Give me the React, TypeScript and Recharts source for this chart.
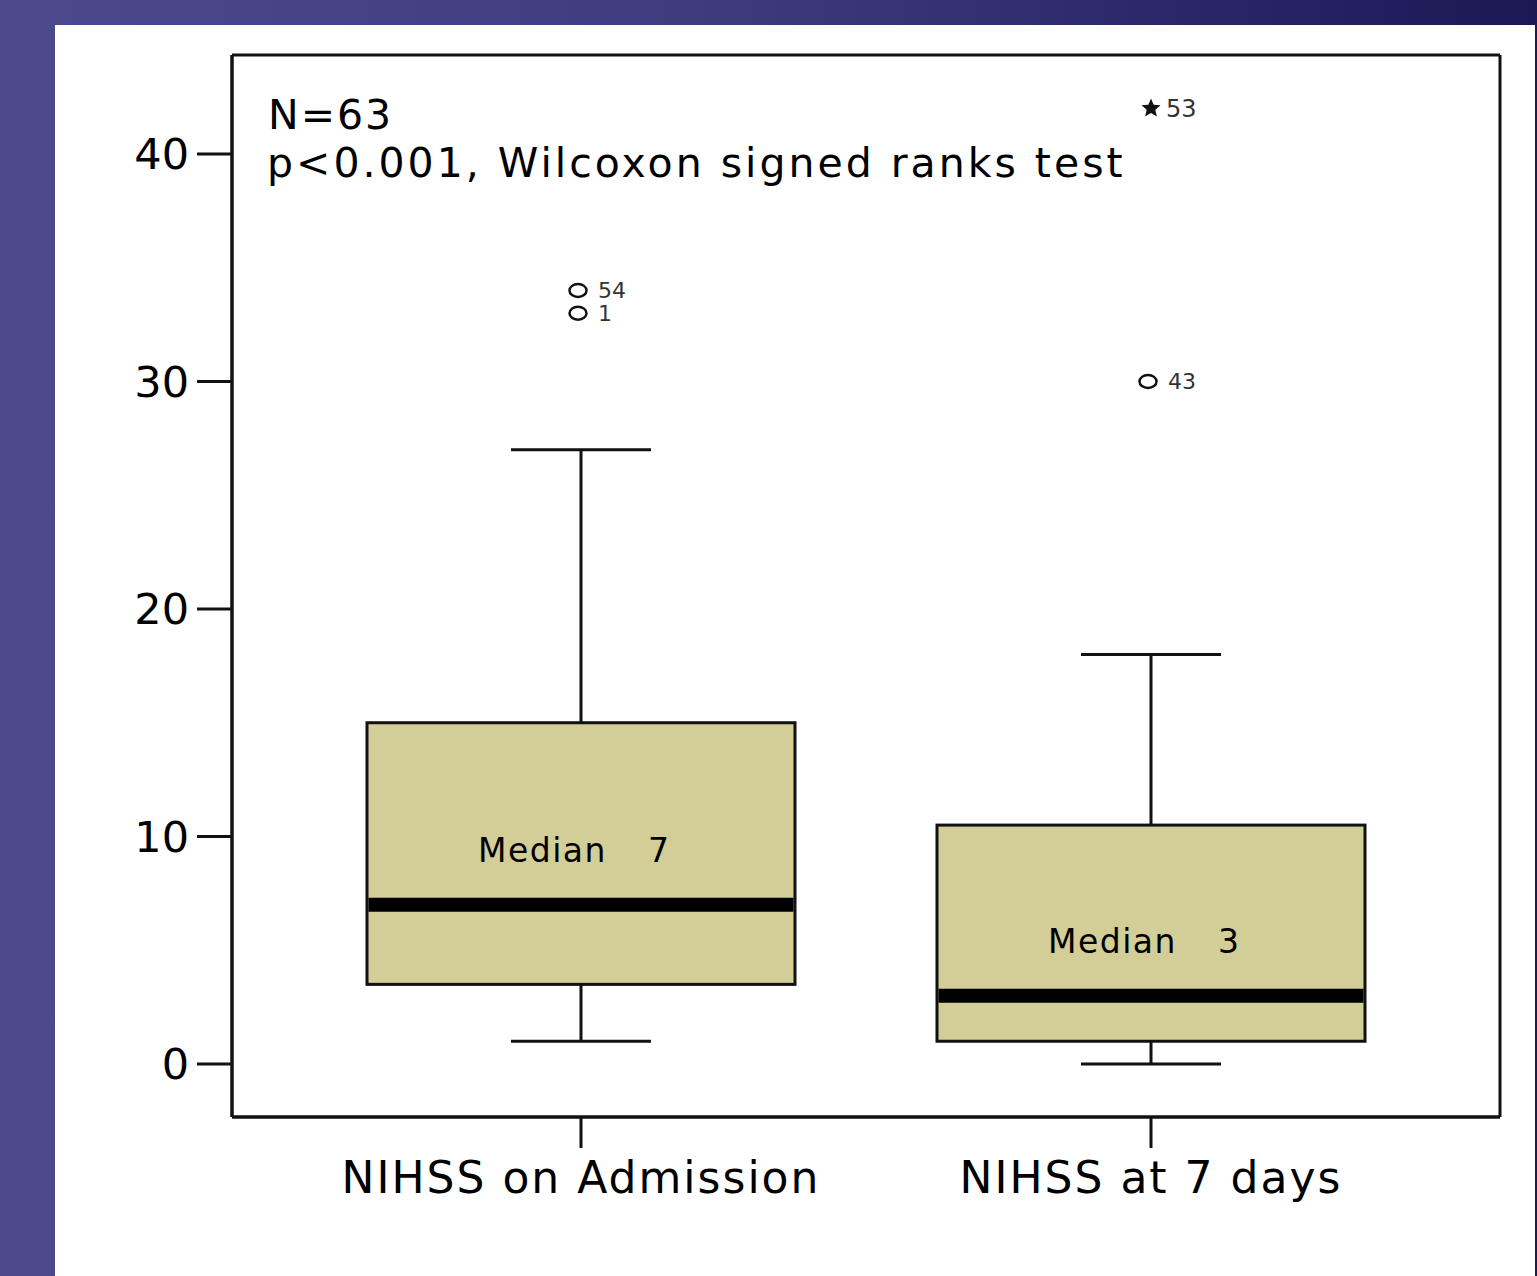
import React from 'react';
import { ComposedChart, Bar, Scatter, XAxis, YAxis, CartesianGrid, Customized } from 'recharts';

// ---- data ----
const categories = ['NIHSS on Admission', 'NIHSS at 7 days'];
const whiskerLow = [1, 0];
const quartile1 = [3.5, 1];
const medians = [7, 3];
const quartile3 = [15, 10.5];
const whiskerHigh = [27, 18];

const outlierCategory = ['NIHSS on Admission', 'NIHSS on Admission', 'NIHSS at 7 days', 'NIHSS at 7 days'];
const outlierValues = [34, 33, 30, 42];
const outlierIds = ['54', '1', '43', '53'];
const outlierKinds = ['circle', 'circle', 'circle', 'extreme'];

const yTicks = [0, 10, 20, 30, 40];
const annotationLines = ['N=63', 'p<0.001, Wilcoxon signed ranks test'];

const boxData = categories.map((name, i) => ({
  name,
  low: whiskerLow[i],
  q1: quartile1[i],
  median: medians[i],
  q3: quartile3[i],
  high: whiskerHigh[i],
}));

const outlierData = outlierValues.map((v, i) => ({
  name: outlierCategory[i],
  v,
  id: outlierIds[i],
  kind: outlierKinds[i],
}));

const FONT = "'DejaVu Sans', sans-serif";
const INK = '#111';
const BOX_FILL = '#d3cd97';

const BoxShape = (props: any) => {
  const { x, y, width, height, payload } = props;
  if (!payload) return null;
  const top = Math.min(y, y + height);
  const bottom = Math.max(y, y + height);
  const ppu = (bottom - top) / (payload.high - payload.low);
  const Y = (v: number) => bottom - (v - payload.low) * ppu;
  const cx = x + width / 2;
  const capHalf = 70;
  const my = Y(payload.median);
  return (
    <g>
      <line x1={cx} x2={cx} y1={Y(payload.high)} y2={Y(payload.low)} stroke={INK} strokeWidth={3} />
      <line x1={cx - capHalf} x2={cx + capHalf} y1={Y(payload.high)} y2={Y(payload.high)} stroke={INK} strokeWidth={3} />
      <line x1={cx - capHalf} x2={cx + capHalf} y1={Y(payload.low)} y2={Y(payload.low)} stroke={INK} strokeWidth={3} />
      <rect
        x={x}
        y={Y(payload.q3)}
        width={width}
        height={Y(payload.q1) - Y(payload.q3)}
        fill={BOX_FILL}
        stroke={INK}
        strokeWidth={3}
      />
      <line x1={x + 1.5} x2={x + width - 1.5} y1={my} y2={my} stroke="#000" strokeWidth={14} />
      <text x={cx + 26} y={my - 43} textAnchor="end" fontFamily={FONT} fontSize={33} letterSpacing={1.5} fill="#000">
        Median
      </text>
      <text x={cx + 67} y={my - 43} textAnchor="start" fontFamily={FONT} fontSize={33} fill="#000">
        {payload.median}
      </text>
    </g>
  );
};

const starPath = (cx: number, cy: number, r: number) => {
  const pts: string[] = [];
  for (let i = 0; i < 10; i++) {
    const rad = i % 2 === 0 ? r : r * 0.45;
    const a = -Math.PI / 2 + (i * Math.PI) / 5;
    pts.push(`${cx + rad * Math.cos(a)},${cy + rad * Math.sin(a)}`);
  }
  return `M${pts.join('L')}Z`;
};

const OutlierShape = (props: any) => {
  const { cx, cy, payload } = props;
  if (cx == null || cy == null || !payload) return null;
  if (payload.kind === 'extreme') {
    return (
      <g>
        <path d={starPath(cx, cy, 10)} fill={INK} />
        <text x={cx + 15} y={cy} dy="0.36em" fontFamily={FONT} fontSize={24} fill="#333">
          {payload.id}
        </text>
      </g>
    );
  }
  return (
    <g>
      <ellipse cx={cx - 3} cy={cy} rx={8.5} ry={6.5} fill="none" stroke={INK} strokeWidth={2.5} />
      <text x={cx + 17} y={cy} dy="0.34em" fontFamily={FONT} fontSize={22} fill="#333">
        {payload.id}
      </text>
    </g>
  );
};

const Annotations = () => (
  <g>
    <text x={268} y={129} fontFamily={FONT} fontSize={41} letterSpacing={2} fill="#000">
      {annotationLines[0]}
    </text>
    <text x={267} y={177} fontFamily={FONT} fontSize={41} letterSpacing={3} fill="#000">
      {annotationLines[1]}
    </text>
  </g>
);

export default function App() {
  return (
    <div style={{ position: 'relative', width: 1537, height: 1276, overflow: 'hidden' }}>
      <style>{'body{margin:0;}'}</style>
      <div
        style={{
          position: 'absolute',
          inset: 0,
          background: 'linear-gradient(90deg, #4a4a8c 0%, #3d3d7e 45%, #1b1856 100%)',
        }}
      />
      <div style={{ position: 'absolute', left: 55, top: 25, width: 1480, height: 1251, background: '#fff' }} />
      <div style={{ position: 'absolute', left: 0, top: 0 }}>
        <ComposedChart
          width={1537}
          height={1276}
          data={boxData}
          margin={{ top: 55, right: 37, bottom: 99, left: 132 }}
        >
          <CartesianGrid
            stroke={INK}
            strokeWidth={3}
            fill="none"
            horizontalCoordinatesGenerator={({ offset }: any) => [offset.top, offset.top + offset.height]}
            verticalCoordinatesGenerator={({ offset }: any) => [offset.left, offset.left + offset.width]}
          />
          <XAxis
            dataKey="name"
            type="category"
            allowDuplicatedCategory={false}
            height={60}
            padding={{ left: 64, right: 64 }}
            axisLine={{ stroke: INK, strokeWidth: 3 }}
            tickLine={{ stroke: INK, strokeWidth: 3 }}
            tickSize={31}
            tickMargin={14}
            tick={{ fontSize: 44, fill: '#000', fontFamily: FONT, letterSpacing: 2 }}
            interval={0}
          />
          <YAxis
            type="number"
            width={100}
            domain={[-2.33, 44.35]}
            allowDataOverflow
            ticks={yTicks}
            axisLine={{ stroke: INK, strokeWidth: 3 }}
            tickLine={{ stroke: INK, strokeWidth: 3 }}
            tickSize={35}
            tickMargin={8}
            tick={{ fontSize: 43, fill: '#000', fontFamily: FONT }}
          />
          <Bar
            dataKey={(d: any) => [d.low, d.high]}
            barSize={428}
            shape={<BoxShape />}
            isAnimationActive={false}
          />
          <Scatter data={outlierData} dataKey="v" shape={<OutlierShape />} isAnimationActive={false} />
          <Customized component={Annotations} />
        </ComposedChart>
      </div>
    </div>
  );
}
